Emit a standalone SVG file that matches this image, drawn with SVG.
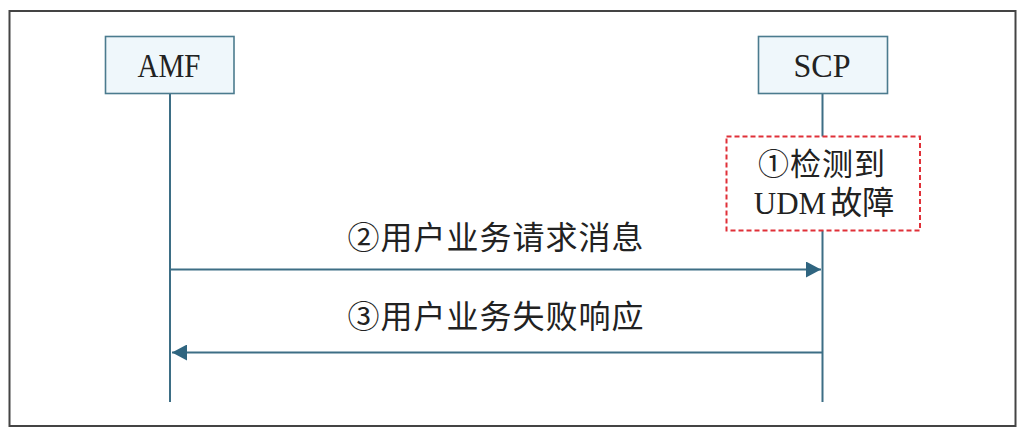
<svg xmlns="http://www.w3.org/2000/svg" width="1028" height="438" viewBox="0 0 1028 438">
<style>
.node rect{fill:#eff7fb;stroke:#4b7b8e;stroke-width:1.6}
.lbl{font-family:"Liberation Serif","Noto Sans CJK SC",serif;fill:#222;text-anchor:middle}
.life{stroke:#3d6e85;stroke-width:2;fill:none}
.msg{stroke:#3d6e85;stroke-width:2;fill:none}
.cjk{font-family:"Noto Sans CJK SC","Liberation Serif",sans-serif;fill:#222;text-anchor:middle;font-size:32px}
.note{font-family:"Liberation Serif","Noto Sans CJK SC",serif;fill:#222;text-anchor:middle;font-size:31px}
</style>
<defs>
<marker id="ah" markerWidth="16" markerHeight="16" refX="15" refY="8" orient="auto" markerUnits="userSpaceOnUse">
<path d="M0,0 L15,8 L0,16 Z" fill="#2f6580"/>
</marker>
</defs>
<rect x="9.5" y="11" width="1006" height="415" fill="#fff" stroke="#444" stroke-width="2"/>
<g id="connectors">
<line class="life" x1="170" y1="93" x2="170" y2="402"/>
<line class="life" x1="822.5" y1="93" x2="822.5" y2="402"/>
<line class="msg" x1="170" y1="269.5" x2="821" y2="269.5" marker-end="url(#ah)"/>
<line class="msg" x1="822.5" y1="352.5" x2="172" y2="352.5" marker-end="url(#ah)"/>
<text class="cjk" x="496" y="249" letter-spacing="1">②用户业务请求消息</text>
<text class="cjk" x="496" y="328" letter-spacing="1">③用户业务失败响应</text>
</g>
<g id="amf" class="node">
<rect x="105.5" y="36.5" width="128.5" height="57"/>
<text class="lbl" x="169" y="77" font-size="34" textLength="63" lengthAdjust="spacingAndGlyphs">AMF</text>
</g>
<g id="scp" class="node">
<rect x="758.5" y="36.5" width="129" height="57"/>
<text class="lbl" x="822" y="77" font-size="34" textLength="57" lengthAdjust="spacingAndGlyphs">SCP</text>
</g>
<g id="note">
<rect x="726.5" y="136.5" width="193.5" height="94" fill="#fff" stroke="#e03038" stroke-width="2" stroke-dasharray="5,3"/>
<text class="note" x="822" y="175" font-size="32" letter-spacing="1">①检测到</text>
<text class="note" x="824" y="214">UDM<tspan dx="4" font-size="32">故障</tspan></text>
</g>
</svg>
